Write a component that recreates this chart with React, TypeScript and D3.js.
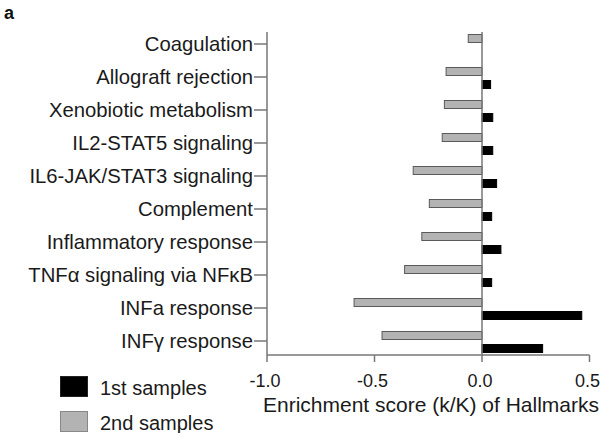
import * as d3 from 'd3';

const categories = [
  'Coagulation',
  'Allograft rejection',
  'Xenobiotic metabolism',
  'IL2-STAT5 signaling',
  'IL6-JAK/STAT3 signaling',
  'Complement',
  'Inflammatory response',
  'TNFα signaling via NFκB',
  'INFa response',
  'INFγ response',
];

// 1st samples (black) and 2nd samples (grey)
const firstSamples = [0, 0.04, 0.05, 0.05, 0.068, 0.045, 0.088, 0.045, 0.464, 0.282];
const secondSamples = [-0.064, -0.167, -0.175, -0.185, -0.32, -0.245, -0.28, -0.36, -0.595, -0.465];

const xTicks = [-1.0, -0.5, 0.0, 0.5];
const seriesNames = ['2nd samples', '1st samples'];

const W = 602;
const H = 433;
const font = 'Liberation Sans, Arial, sans-serif';
const axisColor = '#777';
const textColor = '#1a1a1a';
const greyFill = '#b3b3b3';
const greyStroke = '#5a5a5a';

export default function App() {
  const x = d3.scaleLinear().domain([-1, 0.5]).range([267, 589.5]);
  const y = d3.scaleBand().domain(categories).range([28.5, 358.5]).padding(0);
  const sub = d3.scaleBand().domain(seriesNames).range([6, 27]).paddingInner(0.385);
  const axisY = 355;
  const axisTop = 32;

  const values: Record<string, number[]> = {
    '1st samples': firstSamples,
    '2nd samples': secondSamples,
  };

  return (
    <svg
      width={W}
      height={H}
      style={{ position: 'absolute', left: 0, top: 0, background: '#fff' }}
      fontFamily={font}
    >
      <text x={4} y={19} fontSize={18} fontWeight="bold" fill="#111">a</text>

      {/* y axis */}
      <line x1={x(-1)} x2={x(-1)} y1={axisTop} y2={axisY} stroke={axisColor} strokeWidth={1.5} />
      {categories.map((c) => {
        const cy = (y(c) ?? 0) + y.bandwidth() / 2 - 1;
        return (
          <g key={c}>
            <line x1={x(-1) - 13} x2={x(-1)} y1={cy} y2={cy} stroke={axisColor} strokeWidth={1.5} />
            <text x={x(-1) - 14} y={cy} dy="0.36em" textAnchor="end" fontSize={20.3} fill={textColor}>
              {c}
            </text>
          </g>
        );
      })}

      {/* x axis */}
      <line x1={x(-1)} x2={x(0.5)} y1={axisY} y2={axisY} stroke={axisColor} strokeWidth={1.5} />
      {xTicks.map((t) => (
        <g key={t}>
          <line x1={x(t)} x2={x(t)} y1={axisY} y2={axisY + 7} stroke={axisColor} strokeWidth={1.5} />
          <text x={x(t) - 2} y={387} textAnchor="middle" fontSize={18} fill={textColor}>
            {t.toFixed(1)}
          </text>
        </g>
      ))}
      <text x={431} y={412} textAnchor="middle" fontSize={21} fill={textColor}>
        Enrichment score (k/K) of Hallmarks
      </text>

      {/* bars */}
      {seriesNames.map((s) =>
        categories.map((c, i) => {
          const v = values[s][i];
          if (v === 0) return null;
          const y0 = (y(c) ?? 0) + (sub(s) ?? 0);
          const isGrey = s === '2nd samples';
          return (
            <rect
              key={s + c}
              x={Math.min(x(0), x(v))}
              y={y0}
              width={Math.abs(x(v) - x(0))}
              height={sub.bandwidth()}
              fill={isGrey ? greyFill : '#000'}
              stroke={isGrey ? greyStroke : '#000'}
              strokeWidth={1}
            />
          );
        })
      )}

      {/* zero line */}
      <line x1={x(0)} x2={x(0)} y1={axisTop} y2={axisY} stroke={axisColor} strokeWidth={1.5} />

      {/* legend */}
      <rect x={60.5} y={376.5} width={27} height={20} fill="#000" stroke="#222" />
      <text x={100} y={395} fontSize={20} fill={textColor}>1st samples</text>
      <rect x={60.5} y={411.5} width={27} height={20} fill={greyFill} stroke="#888" />
      <text x={100} y={430} fontSize={20} fill={textColor}>2nd samples</text>
    </svg>
  );
}
